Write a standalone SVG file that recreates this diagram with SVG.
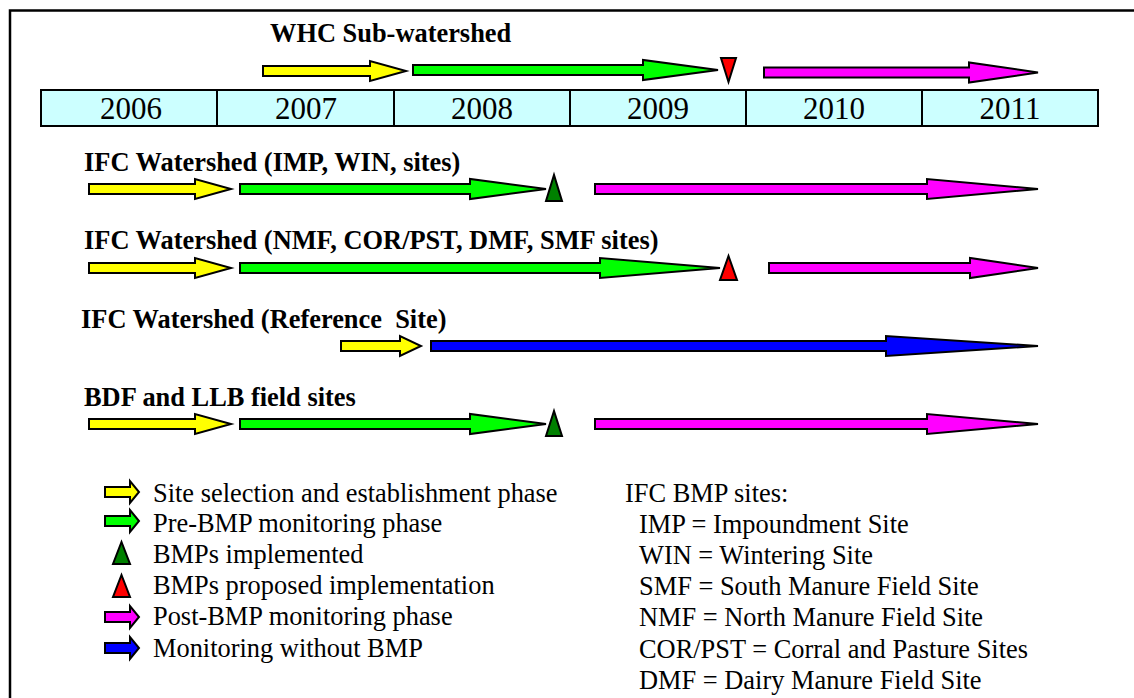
<svg xmlns="http://www.w3.org/2000/svg" width="1134" height="698" viewBox="0 0 1134 698">
<style>
.frame{fill:#fff;stroke:#000;stroke-width:2.5}
.cell{fill:#ccffff;stroke:#000;stroke-width:2}
.yr{font-family:Tinos, FreeSerif, Nimbus Roman, Times;font-size:31px;text-anchor:middle;fill:#000}
.lbl{font-family:Tinos, FreeSerif, Nimbus Roman, Times;font-size:26.4px;font-weight:bold;fill:#000}
.leg{font-family:Tinos, FreeSerif, Nimbus Roman, Times;font-size:26.4px;fill:#000}
.ar{stroke:#000;stroke-width:2;stroke-linejoin:miter}
.y{fill:#ffff00}.g{fill:#00ff00}.m{fill:#ff00ff}.b{fill:#0000ff}.dg{fill:#008000}.r{fill:#ff0000}
</style>
<rect class="frame" x="10" y="10.5" width="1140" height="710"/>
<g id="timeline">
<rect class="cell" x="41" y="90" width="176" height="36"/>
<rect class="cell" x="217" y="90" width="177" height="36"/>
<rect class="cell" x="394" y="90" width="176" height="36"/>
<rect class="cell" x="570" y="90" width="176" height="36"/>
<rect class="cell" x="746" y="90" width="176" height="36"/>
<rect class="cell" x="922" y="90" width="176" height="36"/>
<text class="yr" x="131" y="119">2006</text>
<text class="yr" x="306" y="119">2007</text>
<text class="yr" x="482" y="119">2008</text>
<text class="yr" x="658" y="119">2009</text>
<text class="yr" x="834" y="119">2010</text>
<text class="yr" x="1010" y="119">2011</text>
</g>
<g id="row-whc">
<text class="lbl" x="270" y="42">WHC Sub-watershed</text>
<polygon class="ar y" points="263,66 370,66 370,61 406,71 370,81 370,76 263,76"/>
<polygon class="ar g" points="413,65 643,65 643,60 718,70 643,80 643,75 413,75"/>
<polygon class="ar r" points="721,58 736,58 728.5,82"/>
<polygon class="ar m" points="764,67.5 969,67.5 969,62.5 1038,72.5 969,82.5 969,77.5 764,77.5"/>
</g>
<g id="row-ifc-imp">
<text class="lbl" x="84" y="171">IFC Watershed (IMP, WIN, sites)</text>
<polygon class="ar y" points="89,184 195,184 195,179 231,189 195,199 195,194 89,194"/>
<polygon class="ar g" points="240,184 470,184 470,179 546,189 470,199 470,194 240,194"/>
<polygon class="ar dg" points="546,201 562,201 554,175"/>
<polygon class="ar m" points="595,184 927,184 927,179 1038,189 927,199 927,194 595,194"/>
</g>
<g id="row-ifc-nmf">
<text class="lbl" x="84" y="249">IFC Watershed (NMF, COR/PST, DMF, SMF sites)</text>
<polygon class="ar y" points="89,263 195,263 195,258 231,268 195,278 195,273 89,273"/>
<polygon class="ar g" points="240,263 600,263 600,258 720,268 600,278 600,273 240,273"/>
<polygon class="ar r" points="720,280 737,280 728.5,256"/>
<polygon class="ar m" points="769,263 970,263 970,258 1038,268 970,278 970,273 769,273"/>
</g>
<g id="row-ifc-ref">
<text class="lbl" x="81" y="328" xml:space="preserve">IFC Watershed (Reference  Site)</text>
<polygon class="ar y" points="341,341 400,341 400,336 421,346 400,356 400,351 341,351"/>
<polygon class="ar b" points="431,341 886,341 886,336 1038,346 886,356 886,351 431,351"/>
</g>
<g id="row-bdf">
<text class="lbl" x="84" y="406">BDF and LLB field sites</text>
<polygon class="ar y" points="89,419 195,419 195,414 231,424 195,434 195,429 89,429"/>
<polygon class="ar g" points="240,419 470,419 470,414 546,424 470,434 470,429 240,429"/>
<polygon class="ar dg" points="546,436 562,436 554,411"/>
<polygon class="ar m" points="595,419 927,419 927,414 1038,424 927,434 927,429 595,429"/>
</g>
<g id="legend">
<polygon class="ar y" points="105,487 130,487 130,481 139,492 130,503 130,497 105,497"/>
<text class="leg" x="153" y="502">Site selection and establishment phase</text>
<polygon class="ar g" points="105,516 130,516 130,510 139,521 130,532 130,526 105,526"/>
<text class="leg" x="153" y="532">Pre-BMP monitoring phase</text>
<polygon class="ar dg" points="113,564 130,564 121.5,542"/>
<text class="leg" x="153" y="563">BMPs implemented</text>
<polygon class="ar r" points="113,597 130,597 121.5,575"/>
<text class="leg" x="153" y="594">BMPs proposed implementation</text>
<polygon class="ar m" points="105,612 130,612 130,606 139,617 130,628 130,622 105,622"/>
<text class="leg" x="153" y="625">Post-BMP monitoring phase</text>
<polygon class="ar b" points="105,643 130,643 130,637 139,648 130,659 130,653 105,653"/>
<text class="leg" x="153" y="657">Monitoring without BMP</text>
</g>
<g id="sites-legend">
<text class="leg" x="625" y="502">IFC BMP sites:</text>
<text class="leg" x="639" y="533">IMP = Impoundment Site</text>
<text class="leg" x="639" y="564">WIN = Wintering Site</text>
<text class="leg" x="639" y="595">SMF = South Manure Field Site</text>
<text class="leg" x="639" y="626">NMF = North Manure Field Site</text>
<text class="leg" x="639" y="658">COR/PST = Corral and Pasture Sites</text>
<text class="leg" x="639" y="689">DMF = Dairy Manure Field Site</text>
</g>
</svg>
